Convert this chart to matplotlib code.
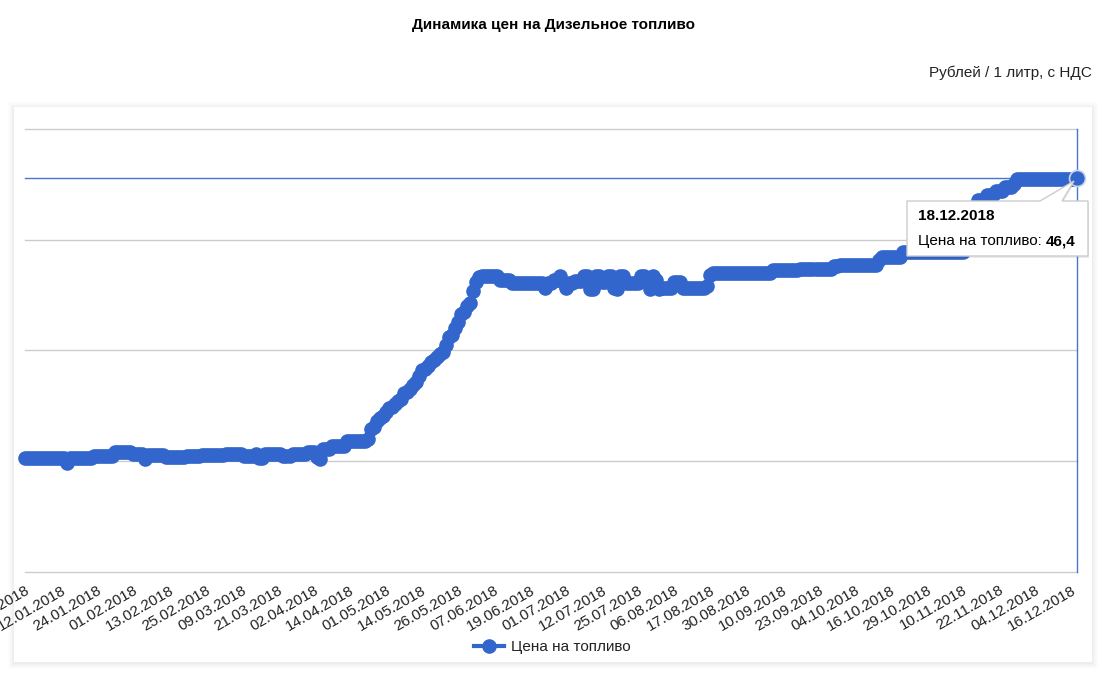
import matplotlib
matplotlib.use("Agg")
import matplotlib.pyplot as plt
from matplotlib.patches import Rectangle, Polygon
from matplotlib.lines import Line2D

plt.rcParams['font.family'] = ['Liberation Sans', 'DejaVu Sans']

# ---------------- data ----------------
title = "Динамика цен на Дизельное топливо"
units = "Рублей / 1 литр, с НДС"
series_name = "Цена на топливо"

tick_labels = [
    "01.01.2018", "12.01.2018", "24.01.2018", "01.02.2018", "13.02.2018",
    "25.02.2018", "09.03.2018", "21.03.2018", "02.04.2018", "14.04.2018",
    "01.05.2018", "14.05.2018", "26.05.2018", "07.06.2018", "19.06.2018",
    "01.07.2018", "12.07.2018", "25.07.2018", "06.08.2018", "17.08.2018",
    "30.08.2018", "10.09.2018", "23.09.2018", "04.10.2018", "16.10.2018",
    "29.10.2018", "10.11.2018", "22.11.2018", "04.12.2018", "16.12.2018",
]
last_date = "18.12.2018"
last_value_text = "46,4"

prices = [
    40.08, 40.08, 40.08, 40.08, 40.08, 40.08, 40.08, 40.08, 40.08, 40.08, 40.08, 40.08,
    40.08, 40.08, 39.97, 40.07, 40.07, 40.07, 40.07, 40.07, 40.07, 40.07, 40.07, 40.12,
    40.12, 40.12, 40.12, 40.12, 40.12, 40.12, 40.20, 40.20, 40.20, 40.20, 40.20, 40.20,
    40.16, 40.16, 40.16, 40.16, 40.06, 40.15, 40.15, 40.15, 40.15, 40.15, 40.15, 40.09,
    40.09, 40.09, 40.09, 40.09, 40.09, 40.09, 40.12, 40.12, 40.12, 40.12, 40.12, 40.15,
    40.15, 40.15, 40.15, 40.15, 40.15, 40.15, 40.15, 40.17, 40.17, 40.17, 40.17, 40.17,
    40.17, 40.12, 40.12, 40.12, 40.12, 40.16, 40.08, 40.08, 40.16, 40.16, 40.16, 40.16,
    40.16, 40.16, 40.12, 40.12, 40.12, 40.16, 40.16, 40.16, 40.16, 40.16, 40.22, 40.22,
    40.22, 40.10, 40.05, 40.28, 40.28, 40.28, 40.34, 40.34, 40.34, 40.34, 40.34, 40.45,
    40.45, 40.45, 40.45, 40.45, 40.45, 40.45, 40.50, 40.72, 40.78, 40.90, 40.98, 41.02,
    41.12, 41.20, 41.22, 41.30, 41.36, 41.40, 41.54, 41.56, 41.62, 41.72, 41.78, 41.92,
    42.06, 42.08, 42.15, 42.25, 42.29, 42.35, 42.42, 42.46, 42.62, 42.80, 42.86, 43.00,
    43.14, 43.32, 43.38, 43.50, 43.58, 43.85, 44.05, 44.16, 44.18, 44.18, 44.18, 44.18,
    44.18, 44.18, 44.10, 44.10, 44.10, 44.10, 44.02, 44.02, 44.02, 44.02, 44.02, 44.02,
    44.02, 44.02, 44.02, 44.02, 44.02, 43.90, 44.02, 44.02, 44.10, 44.10, 44.18, 44.05,
    43.90, 44.02, 44.02, 44.08, 44.08, 44.08, 44.18, 44.18, 43.88, 43.88, 44.18, 44.18,
    44.05, 44.05, 44.18, 44.18, 43.92, 43.88, 44.18, 44.18, 44.02, 44.02, 44.02, 44.02,
    44.02, 44.18, 44.18, 44.05, 43.88, 44.18, 44.10, 43.88, 43.90, 43.90, 43.90, 43.90,
    44.05, 44.05, 44.05, 43.90, 43.90, 43.90, 43.90, 43.90, 43.90, 43.90, 43.90, 43.95,
    44.20, 44.26, 44.26, 44.26, 44.26, 44.26, 44.26, 44.26, 44.26, 44.26, 44.26, 44.26,
    44.26, 44.26, 44.26, 44.26, 44.26, 44.26, 44.26, 44.26, 44.26, 44.32, 44.32, 44.32,
    44.32, 44.32, 44.32, 44.32, 44.32, 44.32, 44.35, 44.35, 44.35, 44.35, 44.35, 44.35,
    44.35, 44.35, 44.35, 44.35, 44.35, 44.40, 44.40, 44.44, 44.44, 44.44, 44.44, 44.44,
    44.44, 44.44, 44.44, 44.44, 44.44, 44.44, 44.44, 44.44, 44.55, 44.62, 44.62, 44.62,
    44.62, 44.62, 44.62, 44.62, 44.72, 44.72, 44.72, 44.72, 44.72, 44.72, 44.72, 44.72,
    44.72, 44.72, 44.72, 44.72, 44.72, 44.72, 44.72, 44.72, 44.72, 44.72, 44.72, 44.72,
    44.72, 44.90, 45.20, 45.50, 45.75, 45.90, 45.90, 45.90, 46.00, 46.00, 46.00, 46.10,
    46.10, 46.10, 46.18, 46.18, 46.18, 46.25, 46.38, 46.38, 46.38, 46.38, 46.38, 46.38,
    46.38, 46.38, 46.38, 46.38, 46.38, 46.38, 46.38, 46.38, 46.38, 46.38, 46.38, 46.38,
    46.38, 46.38, 46.40,
]
label_step = 12
y_gridlines = [37.5, 40.0, 42.5, 45.0, 47.5]

# ---------------- figure ----------------
W, H = 1107, 676
fig = plt.figure(figsize=(W / 100, H / 100), dpi=100)
fig.patch.set_facecolor('white')


def fx(px):
    return px / W


def fy(py):
    return 1 - py / H


BLUE = '#3366cc'
FS = 11

# card with soft shadow
for d, a in [(6, 0.007), (5, 0.008), (4, 0.010), (3, 0.012), (2, 0.014), (1, 0.016)]:
    fig.add_artist(Rectangle((fx(14 - d), fy(662 + d + 1)), (1078 + 2 * d) / W, (555 + 2 * d) / H,
                             transform=fig.transFigure, facecolor='black', alpha=a,
                             edgecolor='none', zorder=-3))
fig.add_artist(Rectangle((fx(14), fy(662)), 1078 / W, 555 / H, transform=fig.transFigure,
                         facecolor='white', edgecolor='none', zorder=-2))

# titles
fig.text(fx(553), fy(25), title, ha='center', va='center', fontsize=FS,
         fontweight='bold', color='#000000')
fig.text(fx(1092), fy(73), units, ha='right', va='center', fontsize=FS, color='#222222')

# axes
ax = fig.add_axes([fx(25), fy(572), (1077 - 25) / W, (572 - 129) / H])
ax.set_facecolor('none')
ax.set_zorder(1)
idx = list(range(len(prices)))
ax.set_xlim(0, len(prices) - 1)
ax.set_ylim(y_gridlines[0], y_gridlines[-1])
ax.tick_params(axis='y', length=0, labelleft=False)
ax.set_yticks([])
for g in y_gridlines:
    ax.axhline(g, color='#cccccc', lw=1, zorder=0.5, clip_on=False)
for s in ax.spines.values():
    s.set_visible(False)

tick_pos = list(range(0, len(prices), label_step))[:len(tick_labels)]
ax.set_xticks(tick_pos)
ax.set_xticklabels(tick_labels, rotation=30, ha='right', va='top', rotation_mode='anchor',
                   fontsize=FS, color='#222222')
ax.tick_params(axis='x', length=0, pad=8)

# crosshair on last point
ax.axhline(prices[-1], color=BLUE, lw=1, zorder=2, alpha=0.9, clip_on=False)
ax.axvline(idx[-1], color=BLUE, lw=1, zorder=2, alpha=0.9, clip_on=False)

line, = ax.plot(idx, prices, color=BLUE, lw=3, marker='o', ms=9.5, mec=BLUE, mfc=BLUE,
                clip_on=False, zorder=3)
ax.plot([idx[-1]], [prices[-1]], marker='o', ms=11.5, mfc=BLUE, mec='#c9d5f0', mew=1.2,
        clip_on=False, zorder=4)

# legend
fig.legend(handles=[Line2D([], [], color=BLUE, lw=3, marker='o', ms=9.5)],
           labels=[series_name], loc='center', bbox_to_anchor=(fx(552), fy(647)),
           frameon=False, fontsize=FS, handlelength=2.0, handletextpad=0.4,
           labelcolor='#222222')

# tooltip
tip = [(907, 201), (1040, 201), (1074, 181), (1062, 201), (1088, 201), (1088, 256), (907, 256)]
fig.add_artist(Polygon([(fx(x + 1), fy(y + 2)) for x, y in tip], closed=True,
                       transform=fig.transFigure, facecolor='black', alpha=0.08,
                       edgecolor='none', zorder=5))
fig.add_artist(Polygon([(fx(x), fy(y)) for x, y in tip], closed=True,
                       transform=fig.transFigure, facecolor='white', edgecolor='#cccccc',
                       lw=1, zorder=6))
fig.text(fx(918), fy(216), last_date, ha='left', va='center', fontsize=FS,
         fontweight='bold', color='#000000', zorder=7)
t1 = fig.text(fx(918), fy(241), series_name + ": ", ha='left', va='center', fontsize=FS,
              color='#000000', zorder=7)
fig.canvas.draw()
bb = t1.get_window_extent()
fig.text(bb.x1 / W, fy(241), last_value_text, ha='left', va='center', fontsize=FS,
         fontweight='bold', color='#000000', zorder=7)

fig.savefig('out.png', dpi=100, facecolor='white')
